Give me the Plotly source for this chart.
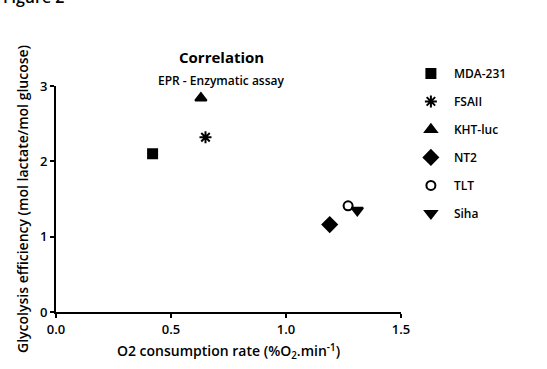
import plotly.graph_objects as go

cell_lines = ["MDA-231", "FSAII", "KHT-luc", "NT2", "TLT", "Siha"]
o2_rate = [0.42, 0.65, 0.63, 1.19, 1.27, 1.31]
glyco_eff = [2.10, 2.32, 2.84, 1.16, 1.41, 1.35]
symbols = ["square", "asterisk-open", "triangle-up", "diamond", "circle-open", "triangle-down"]
sizes = [9, 10, 10, 11, 9, 10]
x_ticks = [0.0, 0.5, 1.0, 1.5]
y_ticks = [0, 1, 2, 3]

FONT = "Open Sans"

fig = go.Figure()
for i, name in enumerate(cell_lines):
    fig.add_trace(go.Scatter(
        x=[o2_rate[i]], y=[glyco_eff[i]], mode="markers", name=name,
        legendgroup=name,
        marker=dict(symbol=symbols[i], size=sizes[i], color="black",
                    line=dict(color="black", width=2)),
        cliponaxis=False,
    ))

axis_common = dict(showline=True, linecolor="black", linewidth=2, ticks="outside",
                   ticklen=4, tickwidth=2, tickcolor="black", showgrid=False,
                   zeroline=False, mirror=False,
                   tickfont=dict(family=FONT, size=13, color="black", weight=600))

def py(pixel):
    return (315 - pixel) / 229

fig.update_layout(
    width=547, height=369,
    margin=dict(l=56, r=146, t=86, b=54),
    paper_bgcolor="white", plot_bgcolor="white",
    showlegend=True,
    legend=dict(x=1.02, y=1.12, xanchor="left", yanchor="top",
                font=dict(family=FONT, size=12, color="black", weight=600),
                itemwidth=36,
                tracegroupgap=9, bgcolor="rgba(0,0,0,0)"),
    xaxis=dict(range=[0, 1.5], tickvals=x_ticks, tickformat=".1f",
               title=dict(text="O2 consumption rate (%O<sub>2</sub>.min<sup>-1</sup>)",
                          font=dict(family=FONT, size=14, color="black", weight=600),
                          standoff=10),
               **axis_common),
    yaxis=dict(range=[0, 3], tickvals=y_ticks,
               title=dict(text="Glycolysis efficiency (mol lactate/mol glucose)",
                          font=dict(family=FONT, size=14, color="black", weight=600),
                          standoff=8),
               **axis_common),
    annotations=[
        dict(text="Correlation", x=0.48, y=py(57), xref="paper", yref="paper",
             xanchor="center", yanchor="middle", showarrow=False,
             font=dict(family=FONT, size=15, color="black", weight=700)),
        dict(text="EPR - Enzymatic assay", x=0.48, y=py(80), xref="paper", yref="paper",
             xanchor="center", yanchor="middle", showarrow=False,
             font=dict(family=FONT, size=12, color="black", weight=600)),
        dict(text="Figure 2", x=-0.16, y=py(-4), xref="paper", yref="paper",
             xanchor="left", yanchor="middle", showarrow=False,
             font=dict(family=FONT, size=16, color="black", weight=600)),
    ],
)

fig.write_html("out.html")
